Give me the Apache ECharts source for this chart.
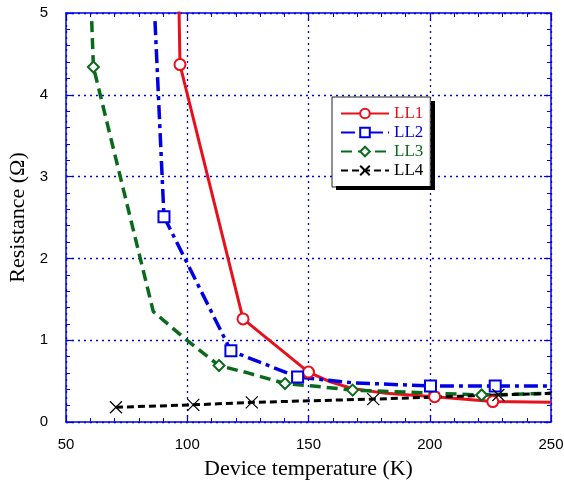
<!DOCTYPE html>
<html>
<head>
<meta charset="utf-8">
<script src="https://cdn.jsdelivr.net/npm/echarts@6/dist/echarts.min.js"></script>
<style>
  html, body { margin: 0; padding: 0; background: #fff; }
  #chart { width: 564px; height: 480px; }
</style>
</head>
<body>
<div id="chart"></div>
<script>
// [temperature, resistance]; marks = indices that carry a marker
var ll1 = [[96.4, 5.4], [97, 4.37], [123, 1.26], [150, 0.61], [159, 0.49], [168, 0.41], [182, 0.35], [202, 0.31], [226, 0.25], [250, 0.24]]
var ll1Marks = [1, 2, 3, 7, 8]
var ll2 = [[86.7, 4.9], [90.4, 2.51], [118, 0.87], [145.5, 0.55], [168, 0.48], [200.3, 0.44], [227, 0.44], [250, 0.44]]
var ll2Marks = [1, 2, 3, 5, 6]
var ll3 = [[60.6, 4.9], [61.3, 4.34], [86, 1.35], [99.8, 1.0], [113.1, 0.69], [125, 0.6], [140.3, 0.47], [152, 0.44], [168.2, 0.39], [221.4, 0.33], [250, 0.35]]
var ll3Marks = [1, 4, 6, 8, 9]
var ll4 = [[70.6, 0.18], [102.5, 0.21], [126.6, 0.24], [176.7, 0.28], [228.3, 0.33], [250, 0.35]]
var ll4Marks = [0, 1, 2, 3, 4]

var names = ['LL1', 'LL2', 'LL3', 'LL4']
var colors = ['#e8101a', '#0000e6', '#0a6a1c', '#000000']

var blue = '#0000e6'
var serif = '"Liberation Serif", "Times New Roman", serif'
var sans = '"Liberation Sans", Arial, sans-serif'

function points(list, marks) {
  return list.map(function (p, i) {
    return marks.indexOf(i) >= 0 ? { value: p } : { value: p, symbol: 'none' }
  })
}

function axis(pos, isX, main) {
  var a = {
    type: 'value',
    position: pos,
    min: isX ? 50 : 0,
    max: isX ? 250 : 5,
    interval: isX ? 50 : 1,
    axisLine: { show: true, onZero: false, lineStyle: { color: blue, width: 1.5 } },
    axisTick: { show: true, inside: true, length: 7, lineStyle: { color: blue, width: 1.2 } },
    minorTick: { show: true, splitNumber: 5, length: 4, lineStyle: { color: blue, width: 1 } },
    splitLine: { show: main, lineStyle: { color: blue, type: [2, 4], width: 1.3 } },
    axisLabel: { show: main, color: '#000', fontSize: 15, fontFamily: sans, margin: isX ? 15 : 18 }
  }
  if (main) {
    a.name = isX ? 'Device temperature (K)' : 'Resistance (\u03a9)'
    a.nameLocation = 'middle'
    a.nameGap = isX ? 36 : 33
    a.nameTextStyle = { color: '#000', fontSize: 22, fontFamily: serif }
  }
  return a
}

var chart = echarts.init(document.getElementById('chart'))
chart.setOption({
  animation: false,
  backgroundColor: '#fff',
  grid: { left: 66, right: 13, top: 13, bottom: 58, outerBoundsMode: 'none', containLabel: false },
  xAxis: [axis('bottom', true, true), axis('top', true, false)],
  yAxis: [axis('left', false, true), axis('right', false, false)],
  // solid drop shadow of the legend box (right and bottom strips)
  graphic: [
    { type: 'rect', z: 100, silent: true, shape: { x: 431, y: 101, width: 4, height: 89 }, style: { fill: '#000' } },
    { type: 'rect', z: 100, silent: true, shape: { x: 336, y: 186, width: 99, height: 4 }, style: { fill: '#000' } }
  ],
  legend: {
    orient: 'vertical',
    left: 332,
    top: 97,
    padding: [8, 7, 8, 8],
    itemGap: 2,
    itemWidth: 48,
    itemHeight: 12,
    backgroundColor: '#fff',
    borderColor: '#222',
    borderWidth: 1,
    selectedMode: false,
    textStyle: { fontSize: 17, lineHeight: 17, fontFamily: serif },
    data: names.map(function (n, i) {
      return { name: n, textStyle: { color: colors[i] } }
    })
  },
  series: [
    {
      name: 'LL1', type: 'line', data: points(ll1, ll1Marks),
      symbol: 'emptyCircle', symbolSize: 11,
      lineStyle: { color: colors[0], width: 3 },
      itemStyle: { color: colors[0], borderWidth: 1 }
    },
    {
      name: 'LL2', type: 'line', data: points(ll2, ll2Marks),
      symbol: 'emptyRect', symbolSize: 11,
      lineStyle: { color: colors[1], width: 3.5, type: [14, 5, 4, 5] },
      itemStyle: { color: colors[1], borderWidth: 1 }
    },
    {
      name: 'LL3', type: 'line', data: points(ll3, ll3Marks),
      symbol: 'emptyDiamond', symbolSize: 11,
      lineStyle: { color: colors[2], width: 3.5, type: [11, 6] },
      itemStyle: { color: colors[2], borderWidth: 1 }
    },
    {
      name: 'LL4', type: 'line', data: points(ll4, ll4Marks),
      symbol: 'path://M0,0L10,10M10,0L0,10', symbolSize: 12,
      lineStyle: { color: colors[3], width: 3, type: [7, 4] },
      itemStyle: { color: 'rgba(0,0,0,0)', borderColor: '#000', borderWidth: 1.2 }
    }
  ].map(function (s) {
    s.emphasis = { disabled: true }
    s.silent = true
    return s
  })
})
</script>
</body>
</html>
